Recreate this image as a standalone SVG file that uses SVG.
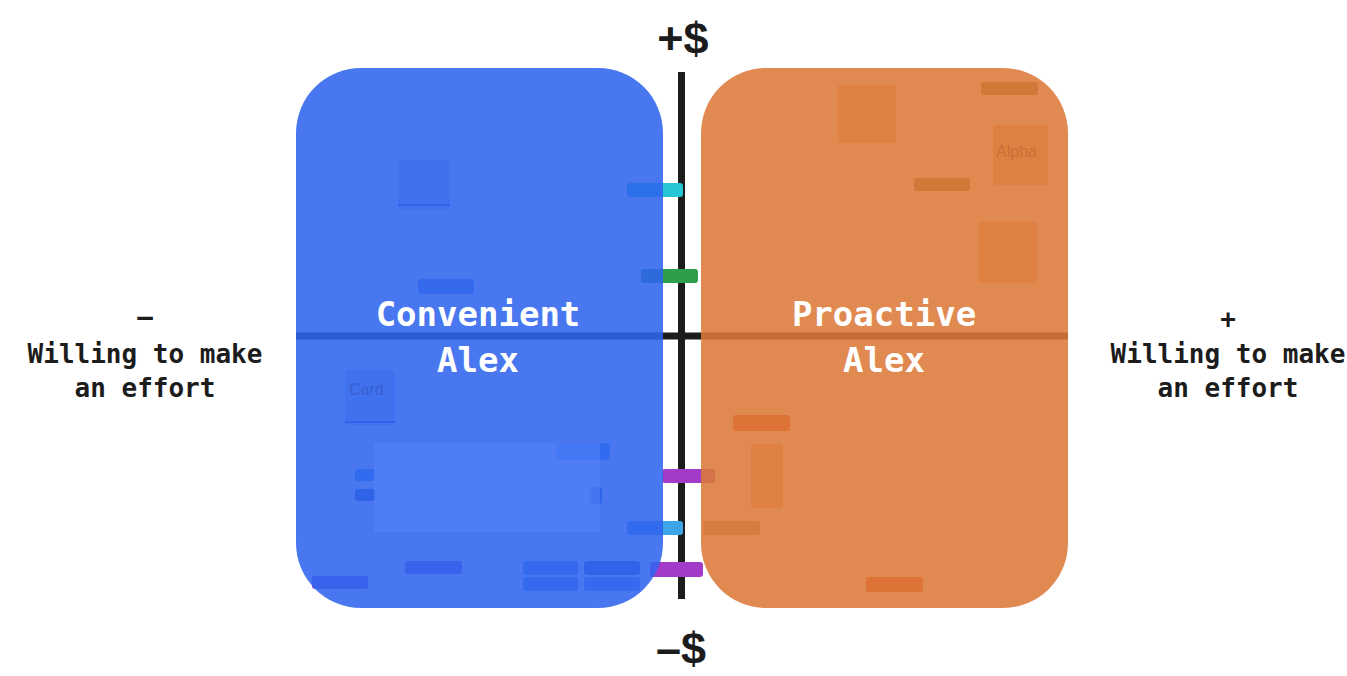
<svg xmlns="http://www.w3.org/2000/svg" width="1347" height="676" viewBox="0 0 1347 676">
<style>
.axis{fill:#1c1c1c}
.tag{rx:3}
.card{rx:3}
.title{font-family:"DejaVu Sans Mono","Liberation Mono",monospace;font-weight:bold;font-size:34px;fill:#ffffff;text-anchor:middle}
.side{font-family:"DejaVu Sans Mono","Liberation Mono",monospace;font-weight:bold;font-size:26px;fill:#1c1c1c;text-anchor:middle}
.money{font-family:"Liberation Sans","DejaVu Sans",sans-serif;font-weight:bold;font-size:45px;fill:#1c1c1c;text-anchor:middle}
.faint{font-family:"Liberation Sans",sans-serif;font-size:16px}
</style>
<rect width="1347" height="676" fill="#ffffff"/>
<g id="connectors">
  <rect class="axis" x="296" y="332.5" width="772" height="7"/>
  <rect class="axis" x="678" y="72" width="7" height="527"/>
</g>
<g id="background-items">
  <!-- left side items -->
  <rect class="card" x="398" y="160" width="52" height="50" fill="#b8c8f4"/>
  <rect x="398" y="204" width="52" height="2" fill="#6040c0"/>
  <rect class="tag" x="627" y="183" width="56" height="14" fill="#26c6d6"/>
  <rect class="tag" x="641" y="269" width="57" height="14" fill="#2f9e4a"/>
  <rect class="tag" x="418" y="279" width="56" height="15" fill="#6090f0"/>
  <rect class="card" x="345" y="370" width="50" height="55" fill="#b8c8f4"/>
  <rect x="345" y="421" width="50" height="2" fill="#6040c0"/>
  <rect class="tag" x="355" y="469" width="20" height="12" fill="#40a0ff"/>
  <rect class="tag" x="355" y="489" width="20" height="12" fill="#3060c0"/>
  <rect class="tag" x="556" y="443" width="54" height="17" fill="#40a0ff"/>
  <rect class="tag" x="590" y="487" width="12" height="17" fill="#3060c0"/>
  <rect class="tag" x="662" y="469" width="53" height="14" fill="#a43bc8"/>
  <rect class="tag" x="627" y="521" width="56" height="14" fill="#3ba5e6"/>
  <rect class="tag" x="650" y="562" width="53" height="15" fill="#a43bc8"/>
  <rect class="tag" x="405" y="561" width="57" height="13" fill="#8050e0"/>
  <rect class="tag" x="312" y="576" width="56" height="13" fill="#8050e0"/>
  <rect class="tag" x="523" y="561" width="55" height="14" fill="#6090f0"/>
  <rect class="tag" x="523" y="577" width="55" height="14" fill="#6090f0"/>
  <rect class="tag" x="584" y="561" width="56" height="14" fill="#3060c8"/>
  <rect class="tag" x="584" y="577" width="56" height="14" fill="#6090f0"/>
  <!-- right side items -->
  <rect class="card" x="838" y="85" width="58" height="58" fill="#e8a878"/>
  <rect class="tag" x="981" y="82" width="57" height="13" fill="#806020"/>
  <rect class="card" x="993" y="125" width="55" height="60" fill="#e8a878"/>
  <rect class="tag" x="914" y="178" width="56" height="13" fill="#806020"/>
  <rect class="card" x="978" y="222" width="59" height="61" fill="#eab080"/>
  <rect class="tag" x="733" y="415" width="57" height="16" fill="#e04020"/>
  <rect class="card" x="751" y="444" width="32" height="64" fill="#eab080"/>
  <rect class="tag" x="703" y="521" width="57" height="14" fill="#b09070"/>
  <rect class="tag" x="866" y="577" width="57" height="15" fill="#e04020"/>
</g>
<g id="panel-convenient">
  <rect x="296" y="68" width="367" height="540" rx="65" fill="#2f64ee" fill-opacity="0.88"/>
  <rect x="374" y="443" width="226" height="89" fill="#5584fa" fill-opacity="0.55"/>
  <text class="faint" x="349" y="395" fill="#3a5fd0">Card</text>
  <text class="title" x="478" y="326">Convenient</text>
  <text class="title" x="478" y="372">Alex</text>
</g>
<g id="panel-proactive">
  <rect x="701" y="68" width="367" height="540" rx="65" fill="#dc7a3a" fill-opacity="0.88"/>
  <text class="faint" x="996" y="157" fill="#c8703a">Alpha</text>
  <text class="title" x="884" y="326">Proactive</text>
  <text class="title" x="884" y="372">Alex</text>
</g>
<g id="axis-labels">
  <text class="money" x="683" y="54">+$</text>
  <text class="money" x="681" y="664">–$</text>
</g>
<g id="label-left">
  <text class="side" x="145" y="326">–</text>
  <text class="side" x="145" y="363">Willing to make</text>
  <text class="side" x="145" y="397">an effort</text>
</g>
<g id="label-right">
  <text class="side" x="1228" y="328">+</text>
  <text class="side" x="1228" y="363">Willing to make</text>
  <text class="side" x="1228" y="397">an effort</text>
</g>
</svg>
